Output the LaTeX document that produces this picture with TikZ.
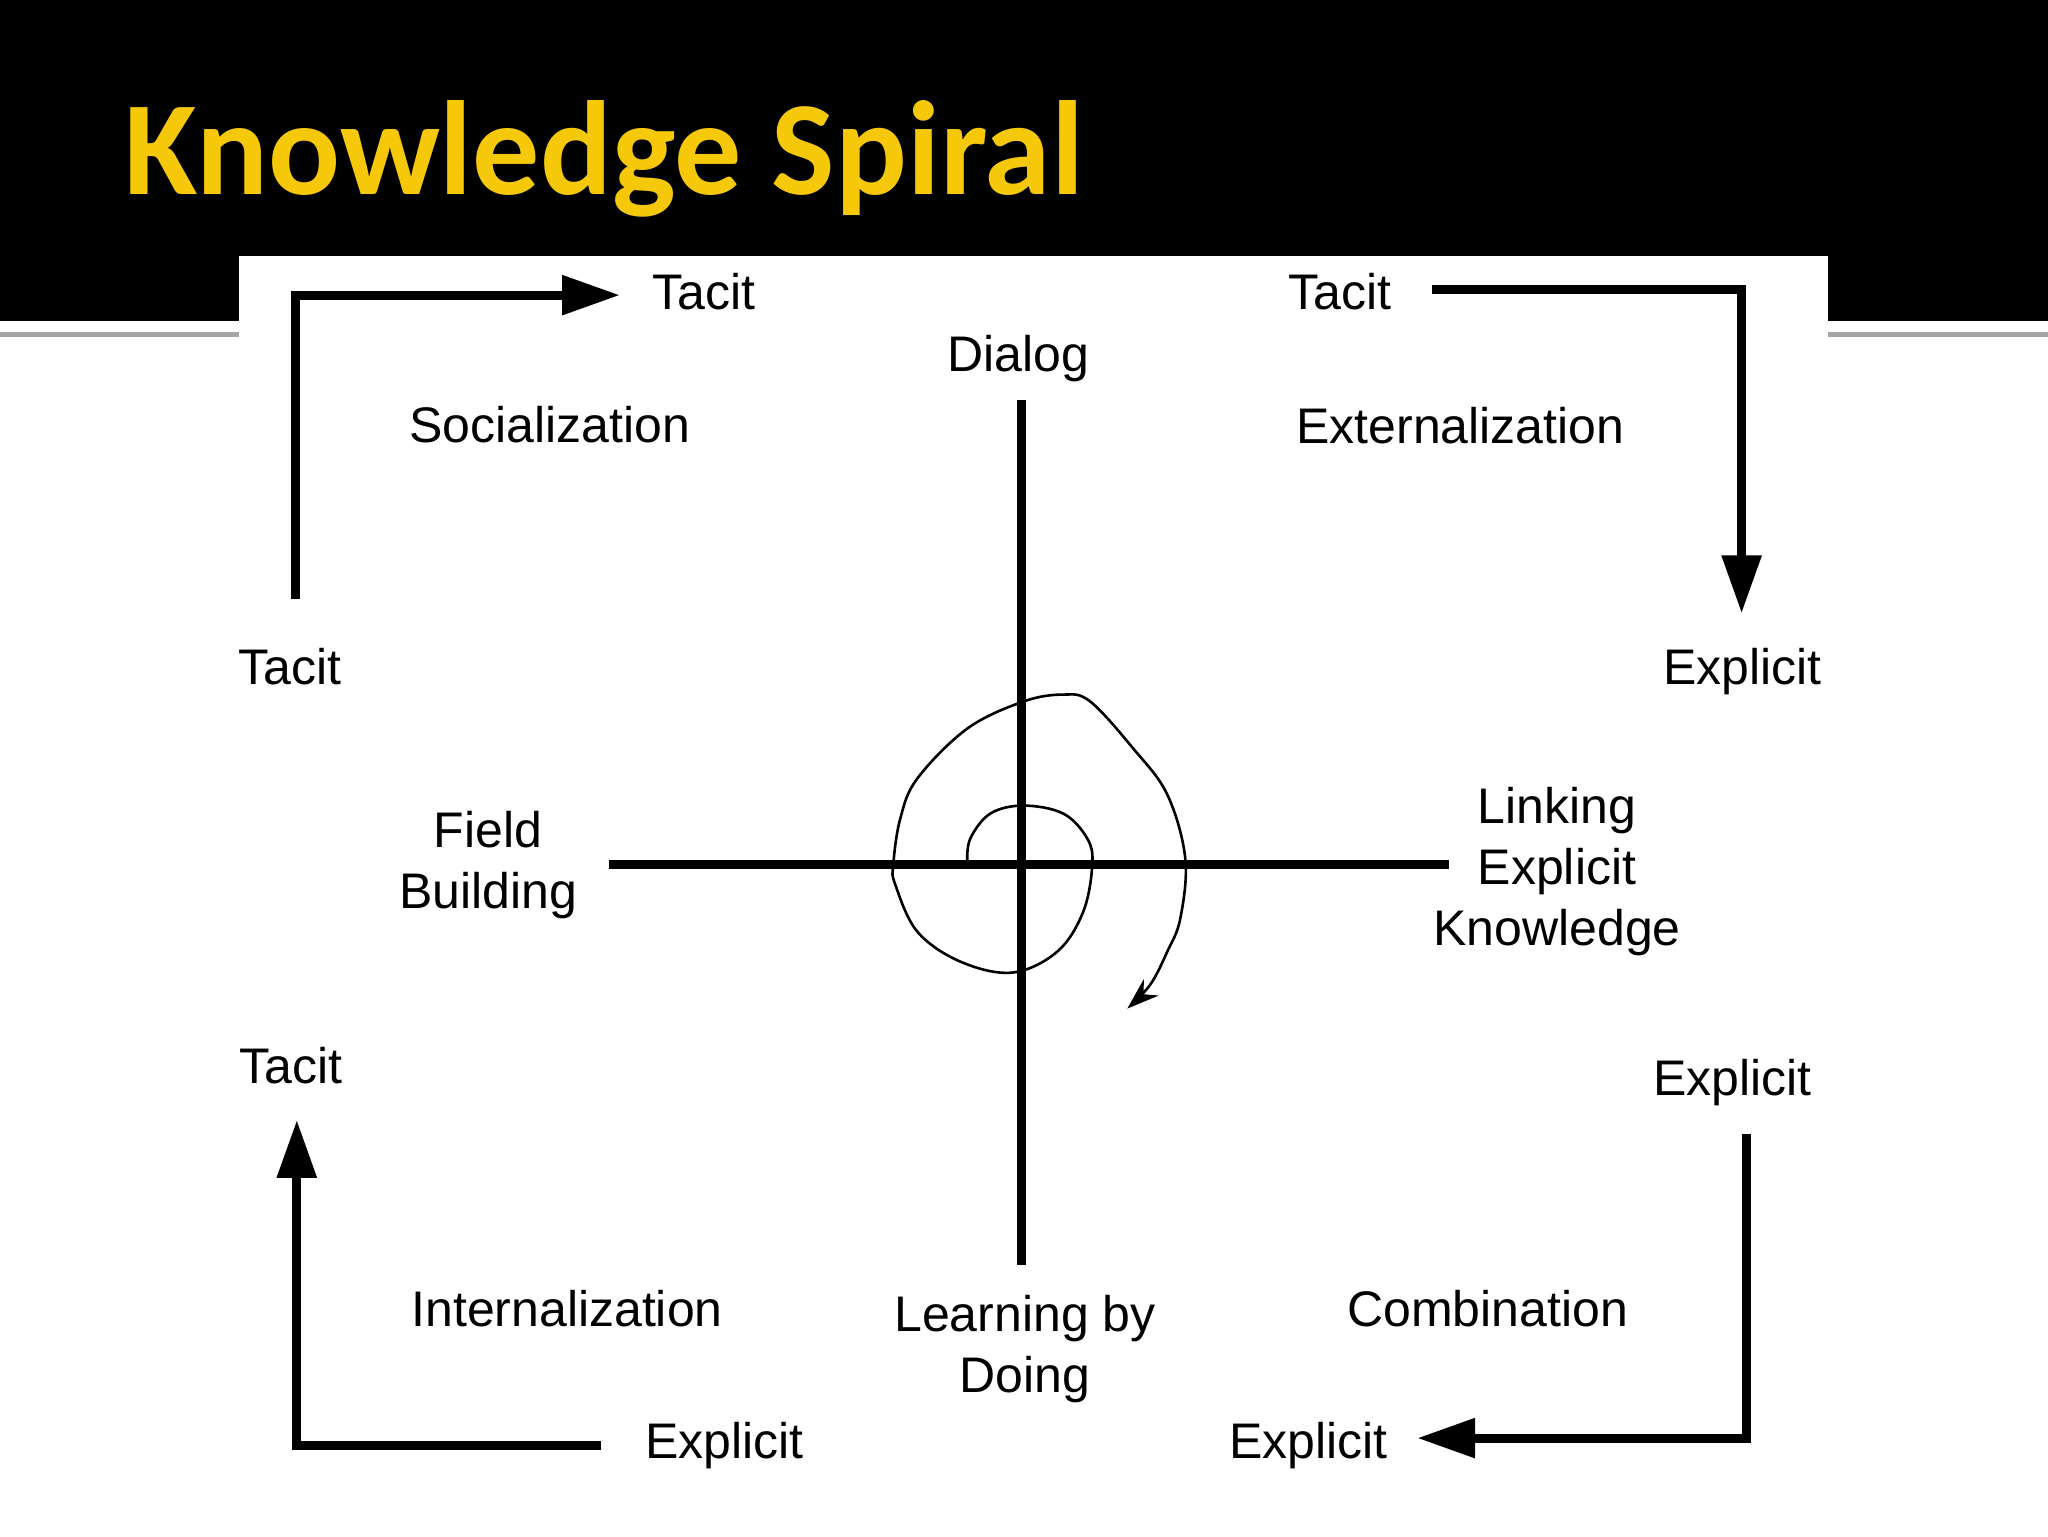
\documentclass[tikz,border=0pt]{standalone}
\usepackage{fontspec}
\setmainfont{Liberation Sans}
\newfontfamily\titlefont{Carlito}
\usetikzlibrary{arrows.meta}
\definecolor{titleyellow}{RGB}{245,200,10}
\definecolor{rulegrey}{RGB}{165,165,165}
\tikzset{
  lbl/.style={inner sep=0pt, font=\fontsize{25}{30.5}\selectfont},
  turn/.style={line width=4.5pt, -{Triangle[length=29pt,width=19pt]}},
  axis/.style={line width=4.5pt},
  spiral/.style={line width=1.3pt, -{Stealth[length=16pt,width=11pt]}}
}

\begin{document}
\begin{tikzpicture}[x=0.5pt, y=-0.5pt]
	\useasboundingbox (0,0) rectangle (2048,1536);
	% slide background
	\fill[black] (0,0) rectangle (2048,321);
	\draw[rulegrey, line width=2.5pt] (0,334) -- (2048,334);
	\fill[white] (239,256) rectangle (1828,1536);
	\node[anchor=base west, inner sep=0pt, text=titleyellow, font=\titlefont\bfseries\fontsize{67}{80}\selectfont] (title) at (124,194) {Knowledge Spiral};

	% corner labels
	\node[lbl, anchor=base west] (tacitTL) at (652,309) {Tacit};
	\node[lbl, anchor=base west] (tacitTR) at (1288,309) {Tacit};
	\node[lbl, anchor=base west] (tacitL) at (238,684) {Tacit};
	\node[lbl, anchor=base west] (explicitR) at (1663,684) {Explicit};
	\node[lbl, anchor=base west] (tacitLL) at (239,1083) {Tacit};
	\node[lbl, anchor=base west] (explicitLR) at (1653,1095) {Explicit};
	\node[lbl, anchor=base west] (explicitBL) at (645,1458) {Explicit};
	\node[lbl, anchor=base west] (explicitBR) at (1229,1458) {Explicit};

	% modes
	\node[lbl, anchor=base west] (social) at (409,442) {Socialization};
	\node[lbl, anchor=base west] (extern) at (1296,443) {Externalization};
	\node[lbl, anchor=base west] (intern) at (411,1326) {Internalization};
	\node[lbl, anchor=base west] (combin) at (1347,1326) {Combination};

	% axis labels (base = last line)
	\node[lbl, anchor=base west] (dialog) at (947,371) {Dialog};
	\node[lbl, anchor=base, align=center] (field) at (488,908) {Field\\Building};
	\node[lbl, anchor=base, align=center] (link) at (1557,945) {Linking\\Explicit\\Knowledge};
	\node[lbl, anchor=base, align=center] (learn) at (1025,1392) {Learning by\\Doing};

	% conversion arrows
	\draw[turn] ([xshift=3pt,yshift=24pt]tacitL.north) |- ([xshift=-16pt,yshift=-2pt]tacitTL.west);
	\draw[turn] ([xshift=20pt,yshift=1pt]tacitTR.east) -| ([xshift=-0.5pt,yshift=17pt]explicitR.north);
	\draw[turn] ([xshift=7pt,yshift=-14pt]explicitLR.south) |- ([xshift=14.5pt,yshift=3.5pt]explicitBR.east);
	\draw[turn] ([xshift=-22pt]explicitBL.west) -| ([xshift=3pt,yshift=-18pt]tacitLL.south);

	% axes
	\draw[axis] ([xshift=1.5pt,yshift=-9pt]dialog.south) -- ([xshift=1.5pt,yshift=14.5pt]dialog.south |- learn.north);
	\draw[axis] ([xshift=16pt]field.east) -- ([xshift=8pt]field.east -| link.west);
	\coordinate (hub) at ([xshift=1.5pt]dialog.south |- field.east);

	% spiral
	\begin{scope}[shift={(hub)}]
		\draw[spiral] plot[smooth, tension=0.6] coordinates {(-54,-3) (-51,-26) (-31,-51) (2,-59) (42,-51) (66,-26) (71,0) (62,47) (36,87) (-9,108) (-61,97) (-104,67) (-126,20) (-128,0) (-121,-46) (-104,-86) (-54,-136) (2,-163) (42,-170) (69,-163) (112,-116) (146,-70) (164,-6) (159,54) (146,87) (129,120) (106,144)};
	\end{scope}
\end{tikzpicture}
\end{document}
